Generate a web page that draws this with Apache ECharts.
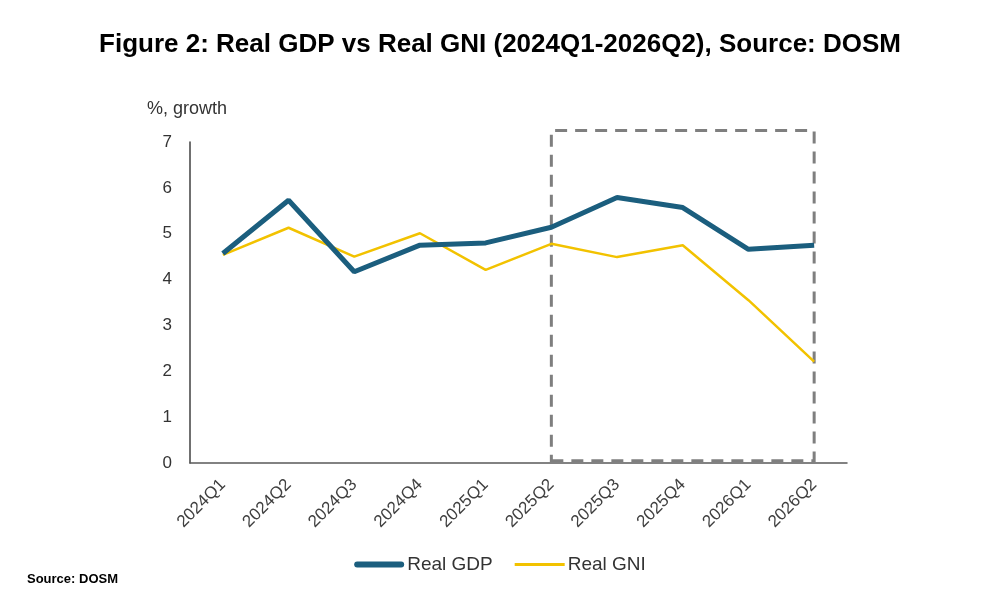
<!DOCTYPE html>
<html>
<head>
<meta charset="utf-8">
<script src="https://cdn.jsdelivr.net/npm/echarts@6/dist/echarts.min.js"></script>
<style>
  html, body { margin: 0; padding: 0; background: #fff; }
  #main { width: 1000px; height: 600px; }
</style>
</head>
<body>
<div id="main"></div>
<script>
// quarters on the x axis
var quarters = ['2024Q1', '2024Q2', '2024Q3', '2024Q4', '2025Q1', '2025Q2', '2025Q3', '2025Q4', '2026Q1', '2026Q2'];
// % growth
var realGDP = [4.57, 5.73, 4.17, 4.75, 4.80, 5.14, 5.79, 5.57, 4.66, 4.75];
var realGNI = [4.54, 5.13, 4.50, 5.01, 4.21, 4.78, 4.49, 4.75, 3.55, 2.21];
// forecast box (dashed), it sticks out a little above the 7 line
var boxFrom = '2025Q2', boxTo = '2026Q2';
var boxLow = 0.05, boxHigh = 7.25;

var font = '"Liberation Sans", Arial, sans-serif';
var myChart = echarts.init(document.getElementById('main'));
var option = {
  animation: false,
  backgroundColor: '#fff',
  title: {
    text: 'Figure 2: Real GDP vs Real GNI (2024Q1-2026Q2), Source: DOSM',
    left: 'center',
    top: 27,
    textStyle: { fontFamily: font, fontSize: 26, fontWeight: 'bold', color: '#000' }
  },
  graphic: [
    { type: 'text', left: 147, top: 100, style: { text: '%, growth', font: '18px ' + font, fill: '#333' } },
    { type: 'text', left: 27, top: 573, style: { text: 'Source: DOSM', font: 'bold 13px ' + font, fill: '#000' } }
  ],
  legend: {
    top: 550,
    left: 'center',
    itemWidth: 50,
    itemHeight: 6,
    itemGap: 22,
    textStyle: { fontFamily: font, fontSize: 19, color: '#333', padding: [0, 0, 0, -2] },
    data: [
      { name: 'Real GDP', icon: 'path://M3,0 L47,0 Q50,0 50,3 Q50,6 47,6 L3,6 Q0,6 0,3 Q0,0 3,0 Z' },
      { name: 'Real GNI', icon: 'path://M0,1.5 L50,1.5 L50,4.5 L0,4.5 Z' }
    ]
  },
  // grid 0 = the chart, grid 1 = a hidden frame for the dashed box only
  grid: [
    { left: 190, right: 153, top: 142, bottom: 137 },
    { left: 190, right: 153, top: 142 - (boxHigh - 7) * 321 / 7, bottom: 137 }
  ],
  xAxis: [
    {
      type: 'category',
      gridIndex: 0,
      data: quarters,
      axisLine: { lineStyle: { color: '#595959', width: 1.5 } },
      axisTick: { show: false },
      axisLabel: { rotate: 45, fontFamily: font, fontSize: 17, color: '#404040', margin: 19 }
    },
    { type: 'category', gridIndex: 1, data: quarters, show: false }
  ],
  yAxis: [
    {
      type: 'value',
      gridIndex: 0,
      min: 0,
      max: 7,
      interval: 1,
      axisLine: { show: true, lineStyle: { color: '#404040', width: 1.5 } },
      axisTick: { show: false },
      splitLine: { show: false },
      axisLabel: { fontFamily: font, fontSize: 17, color: '#333', margin: 18 }
    },
    { type: 'value', gridIndex: 1, min: 0, max: boxHigh, show: false, splitLine: { show: false } }
  ],
  series: [
    {
      name: 'Real GDP',
      type: 'line',
      data: realGDP,
      symbol: 'none',
      color: '#1b5e7e',
      lineStyle: { width: 5, color: '#1b5e7e' },
      z: 3
    },
    {
      name: 'Real GNI',
      type: 'line',
      data: realGNI,
      symbol: 'none',
      color: '#f2c200',
      lineStyle: { width: 2.5, color: '#f2c200' },
      z: 2
    },
    {
      name: 'box',
      type: 'line',
      xAxisIndex: 1,
      yAxisIndex: 1,
      data: [],
      silent: true,
      markArea: {
        silent: true,
        itemStyle: { color: 'rgba(0,0,0,0)', borderColor: '#7f7f7f', borderWidth: 3, borderType: [12, 8] },
        data: [[{ xAxis: boxFrom, yAxis: boxLow }, { xAxis: boxTo, yAxis: boxHigh }]]
      }
    }
  ]
};
myChart.setOption(option);
</script>
</body>
</html>
